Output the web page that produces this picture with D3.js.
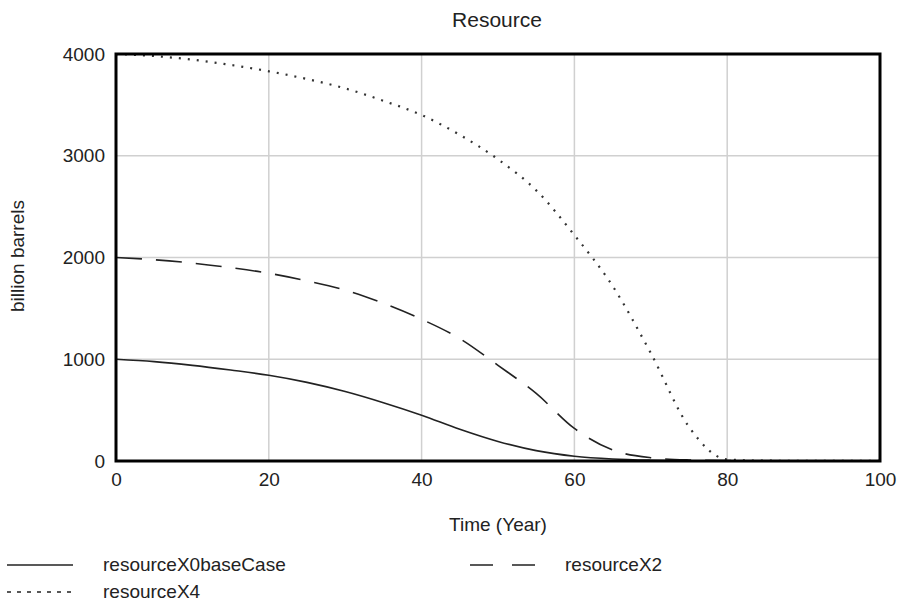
<!DOCTYPE html>
<html>
<head>
<meta charset="utf-8">
<script src="https://cdn.jsdelivr.net/npm/d3@7"></script>
<style>
  body { margin: 0; background: #fff; }
  text { font-family: "Liberation Sans", Arial, sans-serif; fill: #222; }
</style>
</head>
<body>
<div id="container"></div>
<script>
/* CONSTANTS AND GLOBALS */
const width = 904,
  height = 601;

const margin = { left: 116, right: 24, top: 54, bottom: 140 };

// years on the x axis
const years = [0, 5, 10, 15, 20, 25, 30, 35, 40, 45, 50, 55, 60, 65, 70, 75, 80, 85, 90, 95, 100];
const resourceX0baseCase = [1000, 977, 940, 894, 843, 773, 683, 573, 450, 312, 192, 102, 47, 20, 8, 3, 1, 0, 0, 0, 0];
const resourceX2 = [2000, 1978, 1945, 1900, 1845, 1770, 1680, 1550, 1393, 1203, 940, 664, 320, 108, 32, 10, 4, 2, 1, 0, 0];
const resourceX4 = [4000, 3980, 3944, 3893, 3830, 3754, 3662, 3540, 3400, 3205, 2965, 2660, 2220, 1720, 1060, 335, 15, 3, 2, 1, 1];

const xTicks = [0, 20, 40, 60, 80, 100];
const yTicks = [0, 1000, 2000, 3000, 4000];

const seriesNames = ["resourceX0baseCase", "resourceX2", "resourceX4"];

let svg;
let xScale;
let yScale;

/* INITIALIZING FUNCTION */
function init() {
  xScale = d3.scaleLinear()
    .domain([0, 100])
    .range([margin.left, width - margin.right]);

  yScale = d3.scaleLinear()
    .domain([0, 4000])
    .range([height - margin.bottom, margin.top]);

  svg = d3.select("#container")
    .append("svg")
    .attr("width", width)
    .attr("height", height);

  draw();
}

/* DRAW FUNCTION */
function draw() {
  const series = [
    { name: seriesNames[0], values: resourceX0baseCase, dash: null },
    { name: seriesNames[1], values: resourceX2, dash: "26,14" },
    { name: seriesNames[2], values: resourceX4, dash: "2,7" }
  ];

  // grid
  svg.append("g")
    .selectAll("line.vgrid")
    .data(xTicks.slice(1, -1))
    .join("line")
    .attr("x1", d => xScale(d)).attr("x2", d => xScale(d))
    .attr("y1", yScale(4000)).attr("y2", yScale(0))
    .attr("stroke", "#d0d0d0")
    .attr("stroke-width", 1.5);

  svg.append("g")
    .selectAll("line.hgrid")
    .data(yTicks.slice(1, -1))
    .join("line")
    .attr("x1", xScale(0)).attr("x2", xScale(100))
    .attr("y1", d => yScale(d)).attr("y2", d => yScale(d))
    .attr("stroke", "#d0d0d0")
    .attr("stroke-width", 1.5);

  // axes (labels only, frame drawn separately)
  const xAxis = d3.axisBottom(xScale).tickValues(xTicks).tickFormat(d3.format("d")).tickSize(0).tickPadding(12);
  const xAxisGroup = svg.append("g")
    .attr("transform", `translate(0, ${yScale(0)})`)
    .call(xAxis);
  xAxisGroup.select(".domain").remove();
  xAxisGroup.selectAll("text").style("font-size", "19px").style("font-family", "Liberation Sans, Arial, sans-serif").attr("fill", "#222");

  const yAxis = d3.axisLeft(yScale).tickValues(yTicks).tickFormat(d3.format("d")).tickSize(0).tickPadding(11);
  const yAxisGroup = svg.append("g")
    .attr("transform", `translate(${xScale(0)}, 0)`)
    .call(yAxis);
  yAxisGroup.select(".domain").remove();
  yAxisGroup.selectAll("text").style("font-size", "19px").style("font-family", "Liberation Sans, Arial, sans-serif").attr("fill", "#222");

  // lines
  const line = d3.line()
    .x((d, i) => xScale(years[i]))
    .y(d => yScale(d))
    .curve(d3.curveMonotoneX);

  svg.append("g")
    .selectAll("path.series")
    .data(series)
    .join("path")
    .attr("class", "series")
    .attr("d", d => line(d.values))
    .attr("fill", "none")
    .attr("stroke", d => d.dash === "2,7" ? "#333" : "#222")
    .attr("stroke-width", d => d.dash === "2,7" ? 2.2 : 1.6)
    .attr("stroke-dasharray", d => d.dash);

  // frame
  svg.append("rect")
    .attr("x", xScale(0))
    .attr("y", yScale(4000))
    .attr("width", xScale(100) - xScale(0))
    .attr("height", yScale(0) - yScale(4000))
    .attr("fill", "none")
    .attr("stroke", "#000")
    .attr("stroke-width", 3);

  // titles
  svg.append("text")
    .attr("x", 497).attr("y", 27)
    .attr("text-anchor", "middle")
    .style("font-size", "21px")
    .text("Resource");

  svg.append("text")
    .attr("x", 498).attr("y", 531)
    .attr("text-anchor", "middle")
    .style("font-size", "19px")
    .text("Time (Year)");

  svg.append("text")
    .attr("transform", "translate(24, 256) rotate(-90)")
    .attr("text-anchor", "middle")
    .style("font-size", "19px")
    .text("billion barrels");

  // legend
  const legendPos = [
    { x: 7, y: 565 },
    { x: 470, y: 565 },
    { x: 7, y: 592 }
  ];

  const legend = svg.append("g")
    .selectAll("g.legend")
    .data(series)
    .join("g")
    .attr("transform", (d, i) => `translate(${legendPos[i].x}, ${legendPos[i].y})`);

  legend.append("line")
    .attr("x1", 0).attr("x2", 66)
    .attr("stroke", "#222")
    .attr("stroke-width", 1.6)
    .attr("stroke-dasharray", d => d.dash === "2,7" ? "4,6" : (d.dash ? "23,19" : null));

  legend.append("text")
    .attr("x", (d, i) => i === 1 ? 95 : 96)
    .attr("y", 6)
    .style("font-size", "19px")
    .text(d => d.name);
}

init();
</script>
</body>
</html>
